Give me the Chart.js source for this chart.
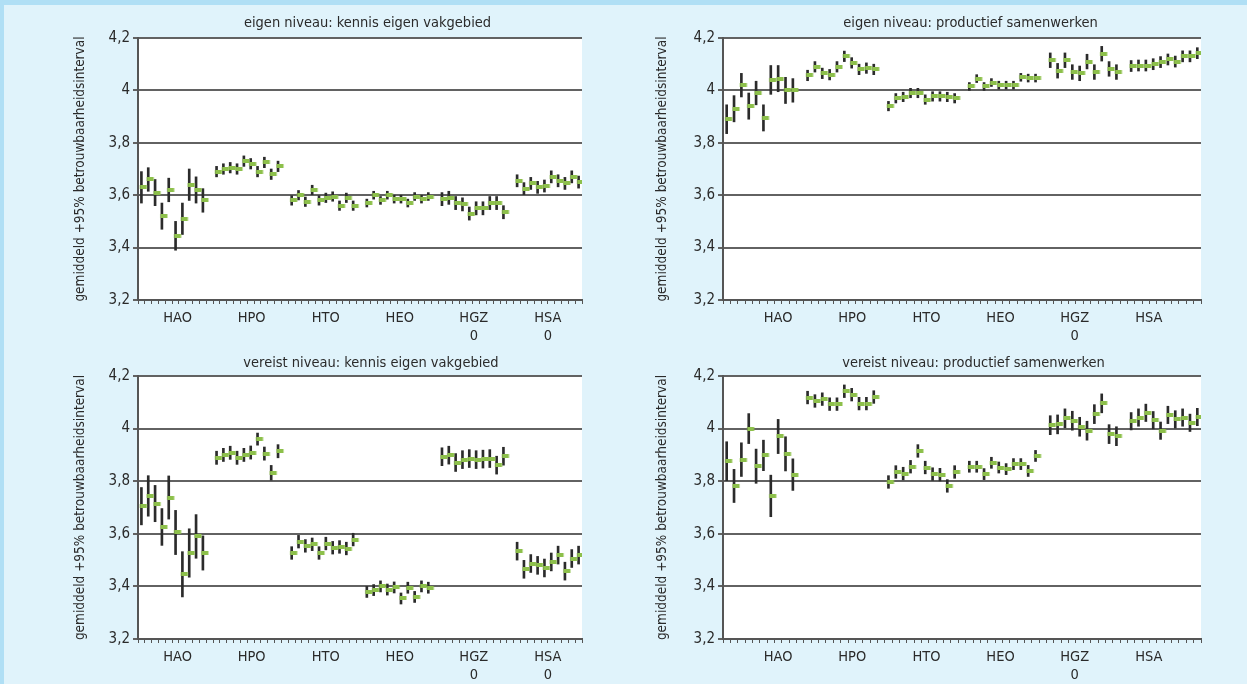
<!DOCTYPE html>
<html lang="nl">
<head>
<meta charset="UTF-8">
<title>Gemiddeld +95% betrouwbaarheidsinterval</title>
<script src="https://cdn.jsdelivr.net/npm/chart.js@4.4.1/dist/chart.umd.min.js"></script>
<style>
  html, body { margin: 0; padding: 0; width: 1247px; height: 684px; overflow: hidden; background: #b0dff5; }
  #wrap { position: absolute; left: 4px; top: 5px; right: 0; bottom: 0; background: #e0f3fb; }
  canvas { position: absolute; }
  #c1 { left: 40px; top: 0; }
  #c2 { left: 622px; top: 0; }
  #c3 { left: 40px; top: 338px; }
  #c4 { left: 622px; top: 338px; }
</style>
</head>
<body>
<div id="wrap"></div>
<canvas id="c1" width="560" height="352"></canvas>
<canvas id="c2" width="600" height="352"></canvas>
<canvas id="c3" width="560" height="353"></canvas>
<canvas id="c4" width="600" height="353"></canvas>

<script>
// categorieen, 10 waarnemingen per groep
const groups = ['HAO', 'HPO', 'HTO', 'HEO', 'HGZ', 'HSA'];
const perGroup = 10;
const yTicks = [3.2, 3.4, 3.6, 3.8, 4.0, 4.2];
const labelsLeft = ['HAO', 'HPO', 'HTO', 'HEO', ['HGZ', '0'], ['HSA', '0']];
const labelsRight = ['HAO', 'HPO', 'HTO', 'HEO', ['HGZ', '0'], 'HSA'];

// eigen niveau: kennis eigen vakgebied
const eigenKennisMean = [
  3.63, 3.66, 3.61, 3.52, 3.62, 3.445, 3.51, 3.64, 3.62, 3.58,
  3.69, 3.70, 3.705, 3.70, 3.73, 3.72, 3.69, 3.725, 3.68, 3.71,
  3.58, 3.60, 3.575, 3.62, 3.58, 3.59, 3.595, 3.56, 3.59, 3.56,
  3.57, 3.60, 3.58, 3.60, 3.585, 3.585, 3.57, 3.595, 3.585, 3.595,
  3.585, 3.59, 3.57, 3.565, 3.53, 3.55, 3.55, 3.57, 3.57, 3.535,
  3.655, 3.625, 3.645, 3.63, 3.635, 3.67, 3.655, 3.645, 3.67, 3.65
];
const eigenKennisCi = [
  0.06, 0.045, 0.05, 0.05, 0.045, 0.055, 0.06, 0.06, 0.05, 0.045,
  0.02, 0.02, 0.02, 0.02, 0.02, 0.02, 0.02, 0.02, 0.02, 0.02,
  0.018, 0.018, 0.018, 0.018, 0.018, 0.018, 0.018, 0.018, 0.018, 0.018,
  0.015, 0.015, 0.015, 0.015, 0.015, 0.015, 0.015, 0.015, 0.015, 0.015,
  0.025, 0.025, 0.025, 0.025, 0.025, 0.025, 0.025, 0.025, 0.025, 0.025,
  0.023, 0.023, 0.023, 0.023, 0.023, 0.023, 0.023, 0.023, 0.023, 0.023
];

// eigen niveau: productief samenwerken
const eigenSamenMean = [
  3.89, 3.93, 4.02, 3.94, 3.99, 3.895, 4.04, 4.045, 4.0, 4.0,
  4.057, 4.09, 4.065, 4.06, 4.09, 4.13, 4.105, 4.08, 4.085, 4.08,
  3.94, 3.97, 3.975, 3.99, 3.99, 3.965, 3.977, 3.977, 3.975, 3.97,
  4.015, 4.045, 4.015, 4.03, 4.02, 4.02, 4.02, 4.05, 4.047, 4.047,
  4.115, 4.075, 4.115, 4.07, 4.065, 4.11, 4.07, 4.14, 4.082, 4.07,
  4.093, 4.095, 4.095, 4.10, 4.108, 4.118, 4.11, 4.13, 4.13, 4.142
];
const eigenSamenCi = [
  0.055, 0.05, 0.045, 0.05, 0.045, 0.05, 0.055, 0.05, 0.05, 0.045,
  0.02, 0.02, 0.02, 0.02, 0.02, 0.02, 0.02, 0.02, 0.02, 0.02,
  0.018, 0.018, 0.018, 0.018, 0.018, 0.018, 0.018, 0.018, 0.018, 0.018,
  0.015, 0.015, 0.015, 0.015, 0.015, 0.015, 0.015, 0.015, 0.015, 0.015,
  0.028, 0.028, 0.028, 0.028, 0.028, 0.028, 0.028, 0.028, 0.028, 0.028,
  0.021, 0.021, 0.021, 0.021, 0.021, 0.021, 0.021, 0.021, 0.021, 0.021
];

// vereist niveau: kennis eigen vakgebied
const vereistKennisMean = [
  3.705, 3.744, 3.715, 3.626, 3.738, 3.605, 3.446, 3.527, 3.59, 3.527,
  3.889, 3.90, 3.908, 3.889, 3.90, 3.909, 3.96, 3.905, 3.832, 3.914,
  3.527, 3.57, 3.554, 3.56, 3.527, 3.563, 3.547, 3.55, 3.544, 3.578,
  3.379, 3.386, 3.40, 3.388, 3.396, 3.354, 3.395, 3.36, 3.40, 3.395,
  3.893, 3.899, 3.871, 3.882, 3.886, 3.882, 3.884, 3.886, 3.861, 3.895,
  3.534, 3.465, 3.487, 3.48, 3.47, 3.493, 3.519, 3.458, 3.506, 3.519
];
const vereistKennisCi = [
  0.071, 0.077, 0.069, 0.07, 0.082, 0.084, 0.086, 0.092, 0.083, 0.065,
  0.025, 0.025, 0.025, 0.025, 0.025, 0.025, 0.023, 0.025, 0.028, 0.025,
  0.024, 0.024, 0.024, 0.024, 0.024, 0.024, 0.024, 0.024, 0.024, 0.024,
  0.021, 0.021, 0.021, 0.021, 0.021, 0.021, 0.021, 0.021, 0.021, 0.021,
  0.034, 0.034, 0.034, 0.034, 0.034, 0.034, 0.034, 0.034, 0.034, 0.034,
  0.034, 0.034, 0.034, 0.034, 0.034, 0.034, 0.034, 0.034, 0.034, 0.034
];

// vereist niveau: productief samenwerken
const vereistSamenMean = [
  3.876, 3.782, 3.882, 4.0, 3.857, 3.898, 3.744, 3.97, 3.904, 3.825,
  4.118, 4.105, 4.112, 4.093, 4.093, 4.142, 4.129, 4.095, 4.095, 4.12,
  3.797, 3.835, 3.829, 3.855, 3.915, 3.852, 3.827, 3.825, 3.782, 3.835,
  3.855, 3.855, 3.827, 3.87, 3.852, 3.846, 3.865, 3.865, 3.839, 3.896,
  4.013, 4.016, 4.039, 4.03, 4.007, 3.992, 4.055, 4.096, 3.979, 3.971,
  4.028, 4.042, 4.06, 4.032, 3.992, 4.052, 4.035, 4.042, 4.022, 4.044
];
const vereistSamenCi = [
  0.074, 0.063, 0.064, 0.057, 0.065, 0.058, 0.079, 0.065, 0.065, 0.06,
  0.024, 0.024, 0.024, 0.024, 0.024, 0.024, 0.024, 0.024, 0.024, 0.024,
  0.024, 0.024, 0.024, 0.024, 0.024, 0.024, 0.024, 0.024, 0.024, 0.024,
  0.021, 0.021, 0.021, 0.021, 0.021, 0.021, 0.021, 0.021, 0.021, 0.021,
  0.036, 0.036, 0.036, 0.036, 0.036, 0.036, 0.036, 0.036, 0.036, 0.036,
  0.033, 0.033, 0.033, 0.033, 0.033, 0.033, 0.033, 0.033, 0.033, 0.033
];

const FONT = "'Liberation Sans Narrow', 'DejaVu Sans Condensed', 'Open Sans', sans-serif";
const TEXT = '#2a2a2a';
const AXIS = '#555';
const slotCount = groups.length * (perGroup + 1) - 1;

// positie op de as: groepen met een lege plek ertussen
function slotOf(i) {
  return Math.floor(i / perGroup) * (perGroup + 1) + (i % perGroup) + 0.5;
}

function fmt(v) {
  return String(Math.round(v * 10) / 10).replace('.', ',');
}

// groene "slot"-markering rechts naast de lijn
const marker = document.createElement('canvas');
marker.width = 14;
marker.height = 4;
(function () {
  const g = marker.getContext('2d');
  g.fillStyle = '#8dc04b';
  g.fillRect(5.5, 0, 7, 4);
})();

const whitePlot = {
  id: 'whitePlot',
  beforeDraw(chart) {
    const { ctx, chartArea: a } = chart;
    ctx.save();
    ctx.fillStyle = '#fff';
    ctx.fillRect(a.left, a.top, a.right - a.left, a.bottom - a.top);
    ctx.restore();
  }
};

// titel boven elk paneel, iets rechts van het midden zoals in het origineel
const panelTitle = {
  id: 'panelTitle',
  afterDraw(chart, args, opts) {
    const ctx = chart.ctx;
    ctx.save();
    ctx.font = 'normal 14.5px ' + FONT;
    ctx.fillStyle = TEXT;
    ctx.textAlign = 'center';
    ctx.textBaseline = 'middle';
    ctx.fillText(opts.text, opts.x, opts.y);
    ctx.restore();
  }
};

function makePanel(id, title, means, ci, labels, lay) {
  new Chart(document.getElementById(id), {
    type: 'bar',
    data: {
      datasets: [
        {
          type: 'bar',
          data: means.map((m, i) => ({ x: slotOf(i), y: [m - ci[i], m + ci[i]] })),
          backgroundColor: '#2b2b2b',
          barThickness: 2,
          borderWidth: 0,
          order: 2
        },
        {
          type: 'scatter',
          data: means.map((m, i) => ({ x: slotOf(i), y: m })),
          pointStyle: marker,
          order: 1
        }
      ]
    },
    options: {
      responsive: false,
      animation: false,
      events: [],
      layout: { padding: { left: 0, right: lay.padRight, top: 38, bottom: 0 } },
      plugins: {
        legend: { display: false },
        tooltip: { enabled: false },
        title: { display: false },
        panelTitle: { text: title, x: lay.titleX, y: lay.titleY }
      },
      scales: {
        x: {
          type: 'linear',
          min: 0,
          max: slotCount,
          offset: false,
          afterBuildTicks: s => {
            const t = [];
            for (let i = 0; i <= slotCount; i++) t.push({ value: i, grp: -1 });
            labels.forEach((l, k) => t.push({ value: lay.labelStart + k * lay.labelStep, grp: k }));
            t.sort((a, b) => a.value - b.value);
            s.ticks = t;
          },
          afterFit: s => { s.height = 52; },
          grid: {
            offset: false,
            drawOnChartArea: false,
            drawTicks: true,
            tickLength: 4,
            tickWidth: 1,
            tickColor: c => (c.tick && c.tick.grp >= 0) ? 'rgba(0,0,0,0)' : AXIS
          },
          border: { color: AXIS, width: 2 },
          ticks: {
            autoSkip: false,
            maxRotation: 0,
            padding: 6,
            color: TEXT,
            font: { family: FONT, size: 14.5, lineHeight: 1.2 },
            callback: (v, i, t) => t[i].grp >= 0 ? labels[t[i].grp] : ''
          }
        },
        y: {
          min: 3.2,
          max: 4.2,
          beginAtZero: false,
          afterBuildTicks: s => { s.ticks = yTicks.map(v => ({ value: v })); },
          afterFit: s => { s.width = lay.yWidth; },
          grid: { color: '#626262', lineWidth: 2, drawTicks: true, tickLength: 5 },
          border: { color: AXIS, width: 2 },
          ticks: { padding: 3, color: TEXT, font: { family: FONT, size: 15 }, callback: v => fmt(v) },
          title: {
            display: true,
            text: 'gemiddeld +95% betrouwbaarheidsinterval',
            color: TEXT,
            font: { family: FONT, size: 13.5 },
            padding: { top: 32, bottom: 0 }
          }
        }
      }
    },
    plugins: [whitePlot, panelTitle]
  });
}

const layLeft = { yWidth: 98, padRight: 18, labelStart: 5.8, labelStep: 10.84 };
const layRight = { yWidth: 101, padRight: 21, labelStart: 7.5, labelStep: 10.08 };

makePanel('c1', 'eigen niveau: kennis eigen vakgebied', eigenKennisMean, eigenKennisCi, labelsLeft,
  Object.assign({ titleX: 327.5, titleY: 23 }, layLeft));
makePanel('c2', 'eigen niveau: productief samenwerken', eigenSamenMean, eigenSamenCi, labelsRight,
  Object.assign({ titleX: 348.5, titleY: 23 }, layRight));
makePanel('c3', 'vereist niveau: kennis eigen vakgebied', vereistKennisMean, vereistKennisCi, labelsLeft,
  Object.assign({ titleX: 331, titleY: 25.5 }, layLeft));
makePanel('c4', 'vereist niveau: productief samenwerken', vereistSamenMean, vereistSamenCi, labelsRight,
  Object.assign({ titleX: 351.5, titleY: 25.5 }, layRight));
</script>
</body>
</html>
